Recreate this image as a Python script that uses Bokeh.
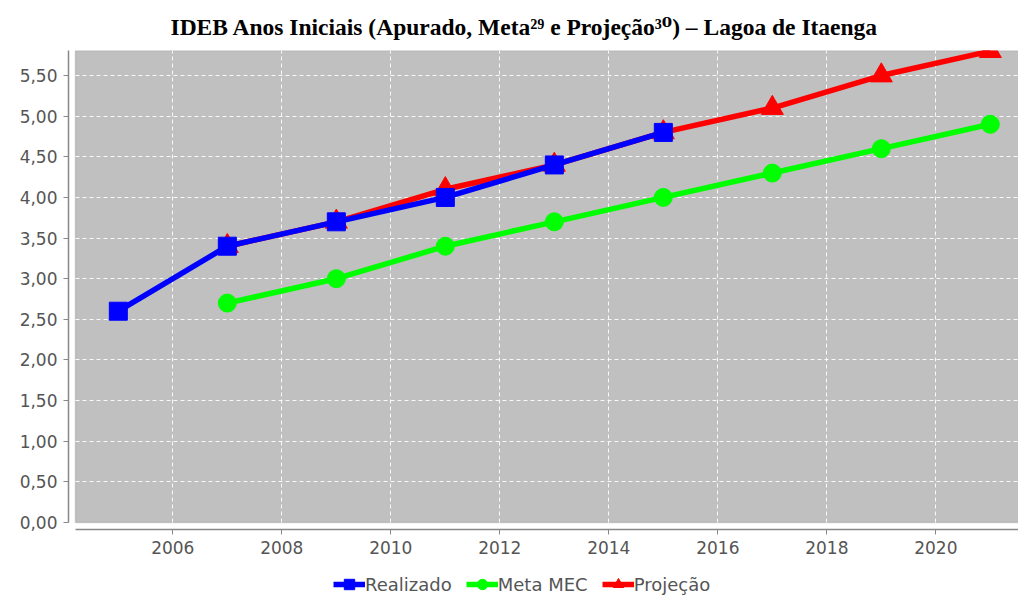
from bokeh.plotting import figure
from bokeh.layouts import column
from bokeh.models import (Range1d, BoxAnnotation, FixedTicker, CustomJSTickFormatter,
                          Legend, LegendItem)
from bokeh.embed import file_html
from bokeh.resources import INLINE

title_text = "IDEB Anos Iniciais (Apurado, Meta²⁹ e Projeção³⁰) – Lagoa de Itaenga"

anos_realizado = [2005, 2007, 2009, 2011, 2013, 2015]
realizado = [2.6, 3.4, 3.7, 4.0, 4.4, 4.8]

anos_meta = [2007, 2009, 2011, 2013, 2015, 2017, 2019, 2021]
meta_mec = [2.7, 3.0, 3.4, 3.7, 4.0, 4.3, 4.6, 4.9]

anos_projecao = [2007, 2009, 2011, 2013, 2015, 2017, 2019, 2021]
projecao = [3.4, 3.7, 4.1, 4.4, 4.8, 5.1, 5.5, 5.8]

x_ticks = [2006, 2008, 2010, 2012, 2014, 2016, 2018, 2020]
y_ticks = [0.0, 0.5, 1.0, 1.5, 2.0, 2.5, 3.0, 3.5, 4.0, 4.5, 5.0, 5.5]

# plot-area extents (grey box) and frame ranges (axis offset gap)
x_area = (2004.214, 2022.5)
y_area = (0.0, 5.808)
x_frame = (2004.086, 2021.517)
y_frame = (-0.086, 5.808)

p = figure(frame_width=950, frame_height=479,
           x_range=Range1d(*x_frame), y_range=Range1d(*y_frame),
           output_backend="svg", toolbar_location=None,
           min_border_left=68, min_border_right=0, min_border_top=8, min_border_bottom=35)

p.background_fill_color = "white"
p.border_fill_color = "white"
p.outline_line_color = None

p.title.text = title_text
p.title.align = "left"
p.title.offset = 102
p.title.standoff = 22
p.title.text_font = "Liberation Serif, DejaVu Serif"
p.title.text_font_style = "bold"
p.title.text_font_size = "23.5px"
p.title.text_color = "black"

box = BoxAnnotation(left=x_area[0], right=x_area[1], bottom=y_area[0], top=y_area[1],
                    fill_color="#c0c0c0", fill_alpha=1.0,
                    line_color="#7f7f7f", line_width=1.5, level="image")
p.add_layout(box)

# grid
p.xgrid.ticker = FixedTicker(ticks=x_ticks)
p.ygrid.ticker = FixedTicker(ticks=[t for t in y_ticks if t > 0])
for g in (p.xgrid, p.ygrid):
    g.grid_line_color = "white"
    g.grid_line_dash = "4 3"
    g.grid_line_width = 1
    g.grid_line_alpha = 0.9

# axes
p.xaxis.ticker = FixedTicker(ticks=x_ticks)
p.yaxis.ticker = FixedTicker(ticks=y_ticks)
p.yaxis.formatter = CustomJSTickFormatter(code="return tick.toFixed(2).replace('.', ',');")
p.xaxis.bounds = x_area
p.yaxis.bounds = y_area
for ax in (p.xaxis, p.yaxis):
    ax.axis_line_color = "#888888"
    ax.axis_line_width = 1.5
    ax.major_tick_line_color = "#888888"
    ax.major_tick_out = 5
    ax.major_tick_in = 0
    ax.minor_tick_line_color = None
    ax.major_label_text_font = "DejaVu Sans"
    ax.major_label_text_font_size = "17px"
    ax.major_label_text_color = "#555555"
    ax.major_label_standoff = 6

LINE_W = 5.5
styles = {
    "proj": dict(color="#ff0000", marker="triangle", size=22),
    "meta": dict(color="#00ff00", marker="circle", size=18),
    "real": dict(color="#0000ff", marker="square", size=18),
}
series = [
    ("proj", anos_projecao, projecao),
    ("meta", anos_meta, meta_mec),
    ("real", anos_realizado, realizado),
]


def draw(fig, key, xs, ys):
    st = styles[key]
    rl = fig.line(xs, ys, line_color=st["color"], line_width=LINE_W)
    rm = fig.scatter(xs, ys, marker=st["marker"], size=st["size"],
                     fill_color=st["color"], line_color=st["color"])
    return rl, rm


for key, xs, ys in series:
    draw(p, key, xs, ys)

# legend strip (separate figure so that it sits below the x axis)
leg = figure(width=1018, height=33, x_range=Range1d(0, 1), y_range=Range1d(0, 1),
             output_backend="svg", toolbar_location=None,
             min_border_left=0, min_border_right=0, min_border_top=0, min_border_bottom=0)
leg.axis.visible = False
leg.grid.visible = False
leg.outline_line_color = None
leg.background_fill_color = "white"
leg.border_fill_color = "white"

lr = {}
for key, xs, ys in series:
    lr[key] = draw(leg, key, xs, ys)

legend = Legend(items=[
    LegendItem(label="Realizado", renderers=list(lr["real"])),
    LegendItem(label="Meta MEC", renderers=list(lr["meta"])),
    LegendItem(label="Projeção", renderers=list(lr["proj"])),
], orientation="horizontal", location=(265, 0),
    border_line_color=None, background_fill_alpha=0,
    label_text_font="DejaVu Sans", label_text_font_size="18px", label_text_color="#555555",
    glyph_width=32, glyph_height=26, label_standoff=0, spacing=14, padding=0, margin=0)
leg.add_layout(legend, "center")

layout = column(p, leg, spacing=0)
open("out.html", "w").write(file_html(layout, INLINE))
